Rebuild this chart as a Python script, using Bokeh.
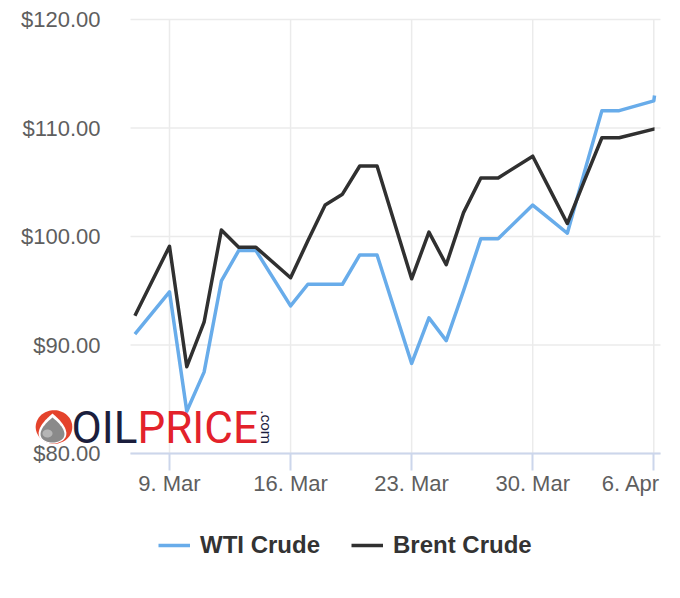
import numpy as np
import pandas as pd
from bokeh.plotting import figure
from bokeh.models import (Range1d, FixedTicker, NumeralTickFormatter, LinearAxis, Legend,
                          LegendItem, PolyAnnotation, ColumnDataSource, Grid)
from bokeh.embed import file_html
from bokeh.resources import INLINE

# ---------------- data ----------------
dates = ["2022-03-07", "2022-03-09", "2022-03-10", "2022-03-11", "2022-03-12", "2022-03-13",
         "2022-03-14", "2022-03-16", "2022-03-17", "2022-03-18", "2022-03-19", "2022-03-20",
         "2022-03-21", "2022-03-23", "2022-03-24", "2022-03-25", "2022-03-26", "2022-03-27",
         "2022-03-28", "2022-03-30", "2022-03-31", "2022-04-01", "2022-04-02", "2022-04-03",
         "2022-04-04", "2022-04-06", "2022-04-06 01:00"]
wti = [91.0, 94.9, 83.9, 87.5, 95.9, 98.7,
       98.7, 93.6, 95.6, 95.6, 95.6, 98.3,
       98.3, 88.3, 92.5, 90.4, 95.0, 99.8,
       99.8, 102.9, 101.6, 100.3, 106.0, 111.6,
       111.6, 112.5, 113.0]
brent = [92.7, 99.1, 88.0, 92.1, 100.6, 99.0,
         99.0, 96.2, 99.6, 102.9, 103.9, 106.5,
         106.5, 96.1, 100.4, 97.4, 102.2, 105.4,
         105.4, 107.4, 104.3, 101.2, 105.2, 109.1,
         109.1, 109.9, 109.9]
series_names = ["WTI Crude", "Brent Crude"]
series_colors = ["#68acea", "#303030"]
tick_dates = ["2022-03-09", "2022-03-16", "2022-03-23", "2022-03-30", "2022-04-06"]
tick_labels = ["9. Mar", "16. Mar", "23. Mar", "30. Mar", "6. Apr"]
y_ticks = [80, 90, 100, 110, 120]
y_min, y_max = 80, 120

# ---------------- geometry ----------------
def ms(d):
    return pd.Timestamp(d).value / 1e6

x_ms = [ms(d) for d in dates]
tick_ms = [ms(d) for d in tick_dates]
src = ColumnDataSource(dict(x=x_ms, wti=wti, brent=brent))

x_start = ms("2022-03-07") - 6.1 * 3600e3
x_end = ms("2022-04-06") + 9.3 * 3600e3

W, H = 680, 598
PL, PR, PT, PB = 130, 660, 19, 453      # plot-area edges in page pixels
kx = (x_end - x_start) / (PR - PL)
ky = (y_max - y_min) / (PB - PT)
X0, X1 = x_start - PL * kx, x_end + (W - PR) * kx
Y0, Y1 = y_min - (H - PB) * ky, y_max + PT * ky

def px_x(px):
    return X0 + px * kx

def px_y(py):
    return Y1 - py * ky

p = figure(width=W, height=H, x_range=Range1d(X0, X1), y_range=Range1d(Y0, Y1),
           x_axis_location=None, y_axis_location=None, min_border=0,
           output_backend="svg", toolbar_location=None)
p.outline_line_color = None
p.background_fill_color = "white"
p.border_fill_color = "white"
for g in p.select(type=Grid):
    g.visible = False
p.center = [r for r in p.center if not isinstance(r, Grid)]

# grid lines (from the tick arrays), limited to the plot area
grid_c, grid_w = "#ebebeb", 1.5
n_t = len(tick_ms)
p.segment(x0=tick_ms, y0=[y_min] * n_t, x1=tick_ms, y1=[y_max] * n_t,
          line_color=grid_c, line_width=grid_w)
p.segment(x0=[x_start] * len(y_ticks), y0=y_ticks, x1=[x_end] * len(y_ticks), y1=y_ticks,
          line_color=grid_c, line_width=grid_w)

# series
r_wti = p.line("x", "wti", source=src, line_color=series_colors[0], line_width=3.5,
               line_join="round")
r_brent = p.line("x", "brent", source=src, line_color=series_colors[1], line_width=3.5,
                 line_join="round")

lab_font = "Liberation Sans"
lab_style = dict(major_label_text_font=lab_font, major_label_text_font_size="22px",
                 major_label_text_color="#5e5e5e")

# x axis (last label is pulled inside the plot edge, like the original)
xax = LinearAxis(fixed_location=y_min, bounds=(x_start, x_end),
                 ticker=FixedTicker(ticks=tick_ms),
                 major_label_overrides={t: (l if i < n_t - 1 else "")
                                        for i, (t, l) in enumerate(zip(tick_ms, tick_labels))},
                 axis_line_color="#ccd6eb", axis_line_width=2,
                 major_tick_line_color="#ccd6eb", major_tick_line_width=2,
                 major_tick_out=17, major_tick_in=0, minor_tick_line_color=None,
                 major_label_standoff=0, **lab_style)
p.add_layout(xax, "below")
last_x = round(px_x(630.5), 1)
xax_last = LinearAxis(fixed_location=y_min, ticker=FixedTicker(ticks=[last_x]),
                      major_label_overrides={last_x: tick_labels[-1]},
                      axis_line_color=None, major_tick_line_color=None,
                      minor_tick_line_color=None, major_tick_out=17, major_tick_in=0,
                      major_label_standoff=0, **lab_style)
p.add_layout(xax_last, "below")

# y axis
yax = LinearAxis(fixed_location=x_start, ticker=FixedTicker(ticks=y_ticks),
                 formatter=NumeralTickFormatter(format="$0.00"),
                 axis_line_color=None, major_tick_line_color=None, minor_tick_line_color=None,
                 major_tick_out=0, major_tick_in=0, major_label_standoff=30, **lab_style)
p.add_layout(yax, "left")

# legend
legend = Legend(items=[LegendItem(label=series_names[0], renderers=[r_wti]),
                       LegendItem(label=series_names[1], renderers=[r_brent])],
                location=(158, 38), orientation="horizontal",
                border_line_color=None, background_fill_alpha=0, padding=0, margin=0,
                glyph_width=32, glyph_height=30, label_standoff=10, spacing=31,
                label_text_font=lab_font, label_text_font_size="24px",
                label_text_font_style="bold", label_text_color="#333333")
p.add_layout(legend, "center")

# ---------------- OILPRICE.com logo (decoration) ----------------
t = np.linspace(0, 2 * np.pi, 80)
def poly(xs_px, ys_px, color):
    p.add_layout(PolyAnnotation(xs=[px_x(v) for v in xs_px], ys=[px_y(v) for v in ys_px],
                                fill_color=color, fill_alpha=1, line_color=None))

poly(53.5 + 18.3 * np.cos(t), 426.5 + 16.8 * np.sin(t), "#e4432c")
poly(52 + 18 * np.sin(t) * np.sin(t / 2), 428 - 15 * np.cos(t), "white")
poly(52 + 15.5 * np.sin(t) * np.sin(t / 2), 429.5 - 12.5 * np.cos(t), "#8a8a8a")
poly(47 + 5 * np.cos(t), 433 + 4 * np.sin(t), "#b5b5b5")

def deco_text(side, at, tick_py, text, size, color, orientation="horizontal"):
    yv = round(px_y(tick_py), 5)
    ax = LinearAxis(fixed_location=px_x(at), ticker=FixedTicker(ticks=[yv]),
                    major_label_overrides={yv: text}, axis_line_color=None,
                    major_tick_line_color=None, minor_tick_line_color=None,
                    major_tick_out=0, major_tick_in=0, major_label_standoff=0,
                    major_label_text_font="Roboto", major_label_text_font_size=size,
                    major_label_text_color=color, major_label_orientation=orientation)
    p.add_layout(ax, side)

deco_text("left", 137, 427, "OIL", "44px", "#1b1e3d")
deco_text("right", 137, 427, "PRICE", "44px", "#e3222b")
deco_text("right", 265, 410, ".com", "15px", "#1b1e3d", orientation=-np.pi / 2)

open("out.html", "w").write(file_html(p, INLINE))
